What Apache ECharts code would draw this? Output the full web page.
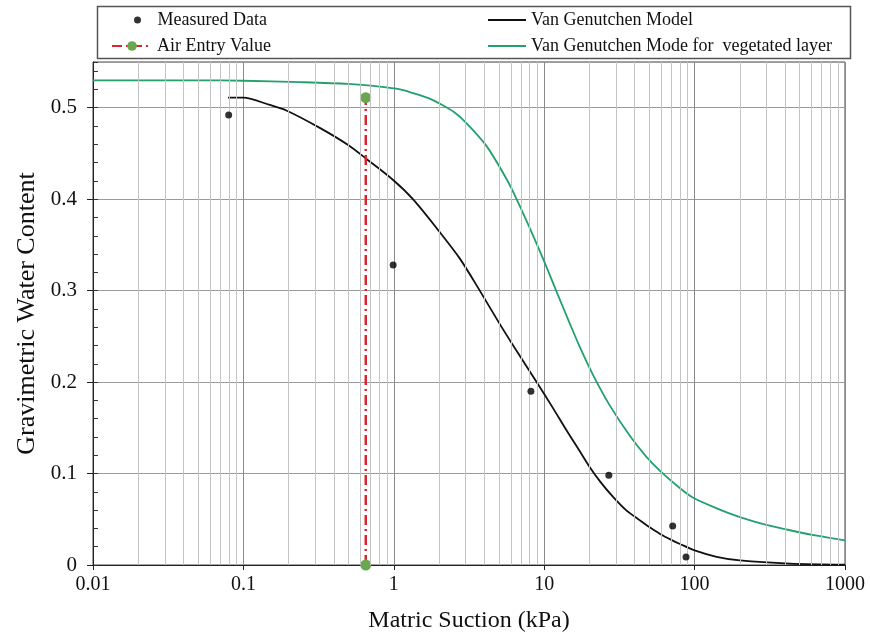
<!DOCTYPE html>
<html>
<head>
<meta charset="utf-8">
<script src="https://cdn.jsdelivr.net/npm/echarts@6/dist/echarts.min.js"></script>
<style>html,body{margin:0;padding:0;background:#fff}#c{width:870px;height:635px}</style>
</head>
<body>
<div id="c"></div>
<script>
// ---- data ----
var measuredSuction = [0.0798, 0.99, 8.16, 26.9, 71.5, 87.7];
var measuredWater   = [0.492, 0.328, 0.190, 0.0982, 0.0426, 0.0087];

var airEntrySuction = [0.651, 0.651];
var airEntryWater   = [0, 0.511];

var vgSuction = [0.079, 0.0997, 0.15, 0.193, 0.322, 0.5, 0.658, 0.99, 1.34, 2.02, 2.75, 3.73, 5.0, 6.5, 8.9, 11.5, 14.1, 17, 20.1, 24, 28.8, 35, 43.3, 50, 58.9, 70, 80, 100, 140, 200, 430, 1000];
var vgWater   = [0.511, 0.511, 0.503, 0.497, 0.478, 0.459, 0.444, 0.421, 0.400, 0.364, 0.335, 0.300, 0.265, 0.235, 0.200, 0.171, 0.147, 0.126, 0.107, 0.0895, 0.0742, 0.060, 0.0488, 0.0415, 0.034, 0.0275, 0.023, 0.016, 0.009, 0.005, 0.0015, 0.0003];

var vegSuction = [0.01, 0.05, 0.1, 0.237, 0.5, 0.807, 1.1, 1.34, 1.7, 2.02, 2.5, 3.05, 4.14, 5.62, 6.6, 8.45, 10, 11.8, 14.8, 17.3, 21.4, 27.4, 37.2, 48, 58.9, 80, 98, 140, 200, 300, 431, 650, 1000];
var vegWater   = [0.530, 0.530, 0.5295, 0.528, 0.526, 0.523, 0.520, 0.516, 0.5105, 0.5045, 0.4955, 0.483, 0.458, 0.422, 0.399, 0.360, 0.332, 0.303, 0.264, 0.238, 0.206, 0.174, 0.141, 0.118, 0.103, 0.084, 0.0735, 0.062, 0.0524, 0.044, 0.038, 0.032, 0.027];

var xTickLabels = ['0.01', '0.1', '1', '10', '100', '1000'];
var yTickLabels = ['0', '0.1', '0.2', '0.3', '0.4', '0.5'];

var seriesNames = ['Measured Data', 'Air Entry Value', 'Van Genutchen Model', 'Van Genutchen Mode for  vegetated layer'];

// ---- minor log grid positions (2..9 in each decade) ----
var minorGrid = [];
for (var d = -2; d <= 2; d++) {
  for (var m = 2; m <= 9; m++) minorGrid.push(Number((m * Math.pow(10, d)).toPrecision(3)));
}

function zip(a, b) { return a.map(function (v, i) { return [v, b[i]]; }); }

var FONT = 'Liberation Serif';
var chart = echarts.init(document.getElementById('c'), null, { renderer: 'canvas' });

var legendText = { fontFamily: FONT, fontSize: 18, color: '#111' };

var option = {
  animation: false,
  backgroundColor: '#fff',
  textStyle: { fontFamily: FONT },
  graphic: [{
    type: 'rect', left: 95, top: 4, z: 100,
    shape: { width: 753, height: 52 },
    style: { fill: 'none', stroke: '#555', lineWidth: 1.5 }
  }],
  legend: [
    { data: [seriesNames[0]], left: 129, top: 6, itemWidth: 30, itemHeight: 7, textStyle: legendText },
    { data: [seriesNames[1]], left: 106, top: 32, itemWidth: 40, itemHeight: 12, textStyle: legendText },
    { data: [{ name: seriesNames[2], icon: 'rect' }], left: 483, top: 6, itemWidth: 38, itemHeight: 2, textStyle: legendText },
    { data: [{ name: seriesNames[3], icon: 'rect' }], left: 483, top: 32, itemWidth: 38, itemHeight: 2, textStyle: legendText }
  ],
  grid: { left: 93, right: 25, top: 62, bottom: 70, show: true, borderColor: '#444', borderWidth: 1, containLabel: false, outerBoundsMode: 'none' },
  xAxis: {
    type: 'log', logBase: 10, min: 0.01, max: 1000,
    name: 'Matric Suction (kPa)', nameLocation: 'middle', nameGap: 44,
    nameTextStyle: { fontFamily: FONT, fontSize: 24, color: '#111' },
    axisLine: { lineStyle: { color: '#222', width: 1 } },
    axisTick: { show: true, length: 5, lineStyle: { color: '#222' } },
    axisLabel: {
      fontFamily: FONT, fontSize: 20, color: '#111', margin: 10,
      formatter: function (v) {
        var s = String(Number(Number(v).toPrecision(6)));
        return xTickLabels.indexOf(s) >= 0 ? s : '';
      }
    },
    splitLine: { show: true, lineStyle: { color: '#8a8a8a', width: 1 } }
  },
  yAxis: [{
    type: 'value', min: 0, max: 0.55, interval: 0.1, position: 'left',
    name: 'Gravimetric Water Content', nameLocation: 'middle', nameGap: 52, nameRotate: 90,
    nameTextStyle: { fontFamily: FONT, fontSize: 26, color: '#111' },
    axisLine: { show: true, lineStyle: { color: '#222', width: 1 } },
    axisTick: { show: true, length: 6, lineStyle: { color: '#222' } },
    axisLabel: {
      fontFamily: FONT, fontSize: 21, color: '#111', margin: 16, showMaxLabel: false,
      formatter: function (v) {
        var s = String(Number(Number(v).toPrecision(6)));
        return yTickLabels.indexOf(s) >= 0 ? s : '';
      }
    },
    splitLine: { show: true, lineStyle: { color: '#9a9a9a', width: 1 } }
  }, {
    type: 'value', min: 0, max: 0.55, interval: 0.02, position: 'left', offset: 0,
    axisLine: { show: false },
    axisTick: { show: true, inside: true, length: 5, lineStyle: { color: '#333' } },
    axisLabel: { show: false },
    splitLine: { show: false }
  }],
  series: [{
    name: 'minor-grid', type: 'line', data: [], z: 1, silent: true,
    markLine: {
      silent: true, symbol: ['none', 'none'], animation: false,
      label: { show: false },
      lineStyle: { color: '#c4c4c4', width: 1, type: 'solid' },
      emphasis: { disabled: true },
      data: minorGrid.map(function (v) { return { xAxis: v }; })
    }
  }, {
    name: seriesNames[2], type: 'line', z: 3,
    data: zip(vgSuction, vgWater),
    symbol: 'none', smooth: 0.3,
    lineStyle: { color: '#111', width: 1.8 },
    itemStyle: { color: '#111' }
  }, {
    name: seriesNames[3], type: 'line', z: 3,
    data: zip(vegSuction, vegWater),
    symbol: 'none', smooth: 0.3,
    lineStyle: { color: '#23a06e', width: 1.8 },
    itemStyle: { color: '#23a06e' }
  }, {
    name: seriesNames[1], type: 'line', z: 4,
    data: zip(airEntrySuction, airEntryWater),
    symbol: 'circle', symbolSize: 11, showSymbol: true,
    lineStyle: { color: '#d7262f', width: 2.5, type: [10, 4, 2, 4] },
    itemStyle: { color: '#6aa84f' }
  }, {
    name: seriesNames[0], type: 'scatter', z: 5,
    data: zip(measuredSuction, measuredWater),
    symbol: 'circle', symbolSize: 7,
    itemStyle: { color: '#000' }
  }]
};
chart.setOption(option);
</script>
</body>
</html>
